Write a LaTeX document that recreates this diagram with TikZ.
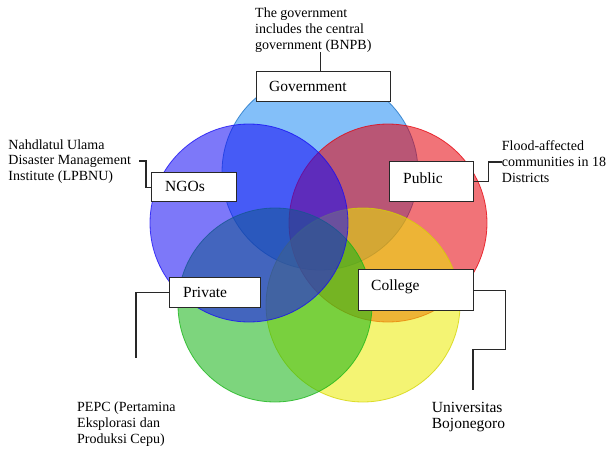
\documentclass[tikz,border=0pt]{standalone}
\usepackage{fontspec}
\setmainfont{Liberation Serif}
\definecolor{cgov}{RGB}{30,140,245}
\definecolor{cngo}{RGB}{20,10,245}
\definecolor{cpub}{RGB}{230,0,10}
\definecolor{ccol}{RGB}{235,235,0}
\definecolor{cpriv}{RGB}{20,180,20}
\definecolor{lineclr}{RGB}{40,40,40}
\tikzset{
  venn/.style={fill opacity=0.55, draw opacity=0.75, line width=0.8pt},
  box/.style={draw=lineclr, line width=1.2pt, fill=white, inner sep=0pt, anchor=north west},
  lbl/.style={font=\fontsize{15.5}{17}\selectfont, anchor=base west, inner sep=0pt},
  note/.style={font=\fontsize{14}{15.8}\selectfont, align=left, anchor=base west, inner sep=0pt},
  bignote/.style={font=\fontsize{15.5}{15.6}\selectfont, align=left, anchor=base west, inner sep=0pt},
  conn/.style={draw=lineclr, line width=1.1pt},
}
\begin{document}
\begin{tikzpicture}[x=1pt,y=-1pt]
\useasboundingbox (0,0) rectangle (608,450);
\fill[white] (0,0) rectangle (608,450);
% circles (order: government, public, college, private, NGOs)
\path[venn, fill=cgov, draw=cgov!80!black] (320,172) circle[radius=98pt];
\path[venn, fill=cpub, draw=cpub] (388,223) circle[radius=99pt];
\path[venn, fill=ccol, draw=ccol!90!black] (363,305) circle[radius=97pt];
\path[venn, fill=cpriv, draw=cpriv] (275,305) circle[radius=97pt];
\path[venn, fill=cngo, draw=cngo] (249,223) circle[radius=99pt];
% boxes
\node[box, minimum width=134pt, minimum height=30pt] (gov) at (256,71) {};
\node[box, minimum width=85pt, minimum height=29pt] (ngo) at (151,172) {};
\node[box, minimum width=84pt, minimum height=40pt] (pub) at (389,161) {};
\node[box, minimum width=91pt, minimum height=30pt] (priv) at (169,277) {};
\node[box, minimum width=115pt, minimum height=41pt] (col) at (358,269) {};
% box labels
\node[lbl] (govlbl) at (269,91.7) {Government};
\node[lbl] (ngolbl) at (165,191.7) {NGOs};
\node[lbl] (publbl) at (403,183.3) {Public};
\node[lbl] (privlbl) at (183,297.7) {Private};
\node[lbl] (collbl) at (371,290.7) {College};
% notes (anchor = baseline of the last line)
\node[note] (govnote) at (255,49) {The government\\includes the central\\government (BNPB)};
\node[note] (ngonote) at (8.3,180.7) {Nahdlatul Ulama\\Disaster Management\\Institute (LPBNU)};
\node[note] (pubnote) at (501.7,182.3) {Flood-affected\\communities in 18\\Districts};
\node[note] (privnote) at (77,443) {PEPC (Pertamina\\Eksplorasi dan\\Produksi Cepu)};
\node[bignote] (colnote) at (431.7,428.3) {Universitas\\Bojonegoro};
% connectors
\coordinate (ngoend) at (139,161);
\coordinate (pubend) at (502,162);
\coordinate (privend) at (136,358);
\coordinate (colend) at (473,390);
\draw[conn] ([xshift=-3.5pt]gov.north) -- ([xshift=-3.5pt]gov.north |- govnote.south);
\draw[conn] (ngo.west) -- ++(-5,0) |- (ngoend);
\draw[conn] (pub.east) -- ++(14,0) |- (pubend);
\draw[conn] (priv.west) -| (privend);
\draw[conn] (col.east) -- ++(31,0) -- ++(0,59.5) -| (colend);
\end{tikzpicture}
\end{document}
